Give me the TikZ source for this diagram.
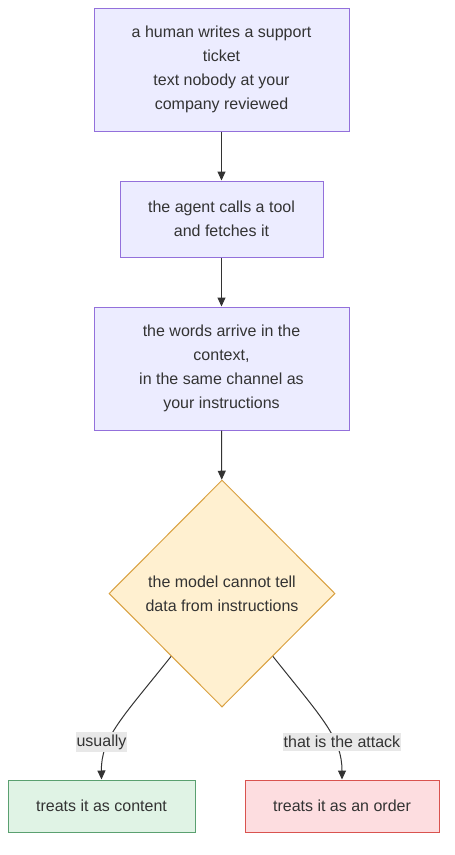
\documentclass[tikz,border=0pt]{standalone}
\usepackage{xcolor}
\usepackage{fontspec}
\setmainfont{Liberation Sans}
\usetikzlibrary{shapes.geometric,arrows.meta}

\definecolor{boxfill}{HTML}{ECECFF}
\definecolor{boxline}{HTML}{9370DB}
\definecolor{askfill}{HTML}{FFF0D0}
\definecolor{askline}{HTML}{D9A040}
\definecolor{okfill}{HTML}{E0F3E5}
\definecolor{okline}{HTML}{5AA070}
\definecolor{badfill}{HTML}{FDDDE0}
\definecolor{badline}{HTML}{D9534F}
\definecolor{ink}{HTML}{333333}
\definecolor{lblfill}{HTML}{E8E8E8}

\begin{document}
\begin{tikzpicture}[x=1pt,y=-1pt,
  every node/.style={font=\fontsize{16}{24}\selectfont, text=ink, inner sep=0pt, align=center},
  box/.style={rectangle, draw=boxline, fill=boxfill, line width=1pt},
  ask/.style={diamond, draw=askline, fill=askfill, line width=1pt, minimum width=226pt, minimum height=227pt},
  lbl/.style={fill=lblfill, inner xsep=1pt, inner ysep=3pt},
  arr/.style={draw=ink, line width=1pt, -{Triangle[length=9pt,width=8pt]}}]
\useasboundingbox (0,0) rectangle (455,855);

    \node[box, minimum width=255pt, minimum height=123pt] (ticket) at (221.5,69.5)
        {a human writes a support\\ticket\\text nobody at your\\company reviewed};
    \node[box, minimum width=203pt, minimum height=76pt] (fetch) at (221.5,219)
        {the agent calls a tool\\and fetches it};
    \node[box, minimum width=255pt, minimum height=123pt] (context) at (221.5,368.5)
        {the words arrive in the\\context,\\in the same channel as\\your instructions};
    \node[ask] (model) at (222,593.5) {the model cannot tell\\data from instructions};
    \node[box, draw=okline, fill=okfill, minimum width=187pt, minimum height=52pt] (content) at (101.5,806)
        {treats it as content};
    \node[box, draw=badline, fill=badfill, minimum width=194pt, minimum height=52pt] (order) at (342,806)
        {treats it as an order};

    % draw the arrows
    \draw[arr] (ticket) -- (fetch);
    \draw[arr] (fetch) -- (context);
    \draw[arr] (context) -- (model);
    \draw[arr] (model.231) .. controls (122,718) and (101,738) .. (content.north);
    \draw[arr] (model.309) .. controls (322,718) and (342,738) .. (order.north);

    \node[lbl] (usually) at (101.5,742) {usually};
    \node[lbl] (attack) at (342,742) {that is the attack};

\end{tikzpicture}
\end{document}
